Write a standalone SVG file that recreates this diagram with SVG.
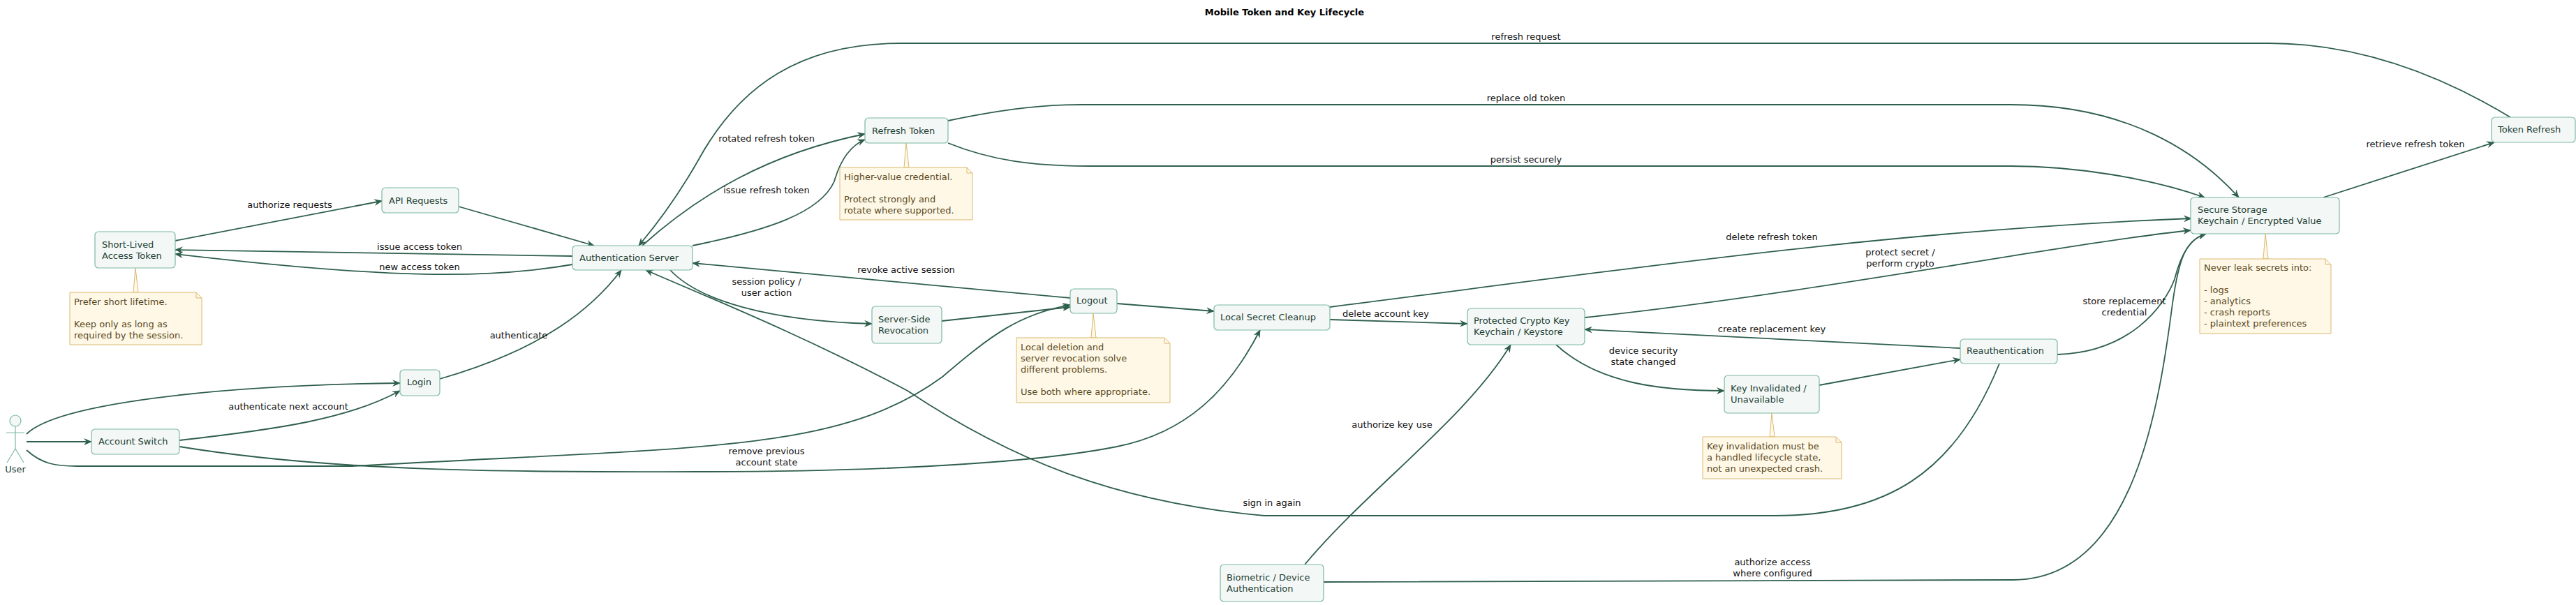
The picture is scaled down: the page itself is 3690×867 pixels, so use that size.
<svg xmlns="http://www.w3.org/2000/svg" width="3690" height="867" viewBox="0 0 3690 867">
<style>
.n{fill:#F3F8F6;stroke:#7DB8A2;stroke-width:1.2}
.nt{font-family:"DejaVu Sans",sans-serif;font-size:13px;fill:#1E3D33}
.no{fill:#FFF8E7;stroke:#D9B870;stroke-width:1}
.not{font-family:"DejaVu Sans",sans-serif;font-size:13px;fill:#5A4A1E}
.e{fill:none;stroke:#2F5F4C;stroke-width:1.8;marker-end:url(#a)}
.l{font-family:"DejaVu Sans",sans-serif;font-size:13px;fill:#111;text-anchor:middle}
.act{fill:#F3F8F6;stroke:#7DB8A2;stroke-width:1.2}
</style>
<defs>
<marker id="a" viewBox="0 0 12 10" refX="11" refY="5" markerWidth="12" markerHeight="10" markerUnits="userSpaceOnUse" orient="auto">
<path d="M0,0 L12,5 L0,10 L4,5 Z" fill="#2F5F4C"/>
</marker>
</defs>
<rect width="3690" height="867" fill="#fff"/>
<text x="1840" y="22" font-family="DejaVu Sans,sans-serif" font-size="13" font-weight="bold" text-anchor="middle">Mobile Token and Key Lifecycle</text>

<g id="connectors">
<path class="e" d="M38,622 C80,580 300,552 573,549"/>
<path class="e" d="M38,633 L131,633"/>
<path class="e" d="M38,645 C60,665 80,668 110,668 L505,668 C1000,640 1200,650 1350,540 C1420,480 1460,450 1533,437"/>
<path class="e" d="M257,631 C400,615 500,600 573,560"/>
<path class="e" d="M257,640 C500,680 800,676 1000,676 C1300,676 1500,660 1600,640 C1700,620 1760,560 1805,473"/>
<path class="e" d="M630,543 C780,500 850,440 890,387"/>
<path class="e" d="M251,345 L547,288"/>
<path class="e" d="M657,296 L851,352"/>
<path class="e" d="M820,367 L251,358"/>
<path class="e" d="M820,379 C700,400 560,400 251,364"/>
<path class="e" d="M920,352 C1000,280 1100,220 1239,192"/>
<path class="e" d="M992,352 C1100,330 1175,305 1195,260 C1205,225 1220,208 1239,200"/>
<path class="e" d="M3596,168 C3450,80 3330,62 3250,62 L1290,62 C1150,62 1060,120 1000,230 C960,300 925,340 915,352"/>
<path class="e" d="M1358,173 C1420,160 1480,150 1550,150 L2880,150 C3050,150 3150,220 3207,283"/>
<path class="e" d="M1358,205 C1420,230 1480,238 1560,238 L2880,238 C2970,238 3080,255 3158,283"/>
<path class="e" d="M960,387 C1000,430 1100,460 1249,464"/>
<path class="e" d="M1349,460 L1533,440"/>
<path class="e" d="M1533,427 L992,377"/>
<path class="e" d="M1600,435 L1739,446"/>
<path class="e" d="M1905,440 C2300,390 2700,330 3139,313"/>
<path class="e" d="M1905,458 L2102,464"/>
<path class="e" d="M2270,455 C2600,420 2950,350 3138,330"/>
<path class="e" d="M2229,494 C2290,550 2380,560 2470,560"/>
<path class="e" d="M2606,552 L2808,515"/>
<path class="e" d="M2808,499 L2270,472"/>
<path class="e" d="M2947,508 C3050,505 3100,440 3115,400 C3125,360 3140,340 3160,335"/>
<path class="e" d="M2864,521 C2800,680 2700,739 2542,739 L1811,739 C1600,720 1450,660 1300,560 C1150,480 1000,420 925,387"/>
<path class="e" d="M1869,809 C1960,700 2100,600 2164,494"/>
<path class="e" d="M1896,834 L2884,831 C3050,830 3090,600 3110,450 C3120,370 3130,345 3160,335"/>
<path class="e" d="M3328,283 L3573,204"/>
<text class="l" x="415" y="298">authorize requests</text>
<text class="l" x="601" y="358">issue access token</text>
<text class="l" x="601" y="387">new access token</text>
<text class="l" x="743" y="485">authenticate</text>
<text class="l" x="413" y="587">authenticate next account</text>
<text class="l" x="1098" y="203">rotated refresh token</text>
<text class="l" x="1098" y="277">issue refresh token</text>
<text class="l" x="1298" y="391">revoke active session</text>
<text class="l" x="1098" y="408">session policy /</text>
<text class="l" x="1098" y="424">user action</text>
<text class="l" x="2186" y="57">refresh request</text>
<text class="l" x="2186" y="145">replace old token</text>
<text class="l" x="2186" y="233">persist securely</text>
<text class="l" x="2538" y="344">delete refresh token</text>
<text class="l" x="2722" y="366">protect secret /</text>
<text class="l" x="2722" y="382">perform crypto</text>
<text class="l" x="1985" y="454">delete account key</text>
<text class="l" x="2538" y="476">create replacement key</text>
<text class="l" x="2354" y="507">device security</text>
<text class="l" x="2354" y="523">state changed</text>
<text class="l" x="1994" y="613">authorize key use</text>
<text class="l" x="1098" y="651">remove previous</text>
<text class="l" x="1098" y="667">account state</text>
<text class="l" x="1822" y="725">sign in again</text>
<text class="l" x="2539" y="810">authorize access</text>
<text class="l" x="2539" y="826">where configured</text>
<text class="l" x="3043" y="436">store replacement</text>
<text class="l" x="3043" y="452">credential</text>
<text class="l" x="3460" y="211">retrieve refresh token</text>
</g>

<g id="user">
<circle class="act" cx="22" cy="603" r="8"/>
<path d="M22,611 L22,643 M9,620 L35,620 M22,643 L10,663 M22,643 L34,663" stroke="#7DB8A2" stroke-width="1.2" fill="none"/>
<text class="nt" x="22" y="677" text-anchor="middle">User</text>
</g>
<g id="short-lived"><rect class="n" x="136" y="332" width="115" height="52" rx="5"/><text class="nt" x="146" y="355">Short-Lived</text><text class="nt" x="146" y="371">Access Token</text></g>
<g id="api"><rect class="n" x="547" y="269" width="110" height="36" rx="5"/><text class="nt" x="557" y="292">API Requests</text></g>
<g id="auth"><rect class="n" x="820" y="352" width="172" height="35" rx="5"/><text class="nt" x="830" y="374">Authentication Server</text></g>
<g id="login"><rect class="n" x="573" y="530" width="57" height="37" rx="5"/><text class="nt" x="583" y="552">Login</text></g>
<g id="account-switch"><rect class="n" x="131" y="615" width="126" height="36" rx="5"/><text class="nt" x="141" y="637">Account Switch</text></g>
<g id="refresh-token"><rect class="n" x="1239" y="169" width="119" height="36" rx="5"/><text class="nt" x="1249" y="192">Refresh Token</text></g>
<g id="server-side"><rect class="n" x="1249" y="439" width="100" height="53" rx="5"/><text class="nt" x="1258" y="462">Server-Side</text><text class="nt" x="1258" y="478">Revocation</text></g>
<g id="logout"><rect class="n" x="1533" y="414" width="67" height="35" rx="5"/><text class="nt" x="1542" y="435">Logout</text></g>
<g id="cleanup"><rect class="n" x="1739" y="437" width="166" height="36" rx="5"/><text class="nt" x="1748" y="459">Local Secret Cleanup</text></g>
<g id="protected"><rect class="n" x="2102" y="442" width="168" height="52" rx="5"/><text class="nt" x="2111" y="464">Protected Crypto Key</text><text class="nt" x="2111" y="480">Keychain / Keystore</text></g>
<g id="invalidated"><rect class="n" x="2470" y="538" width="136" height="54" rx="5"/><text class="nt" x="2479" y="561">Key Invalidated /</text><text class="nt" x="2479" y="577">Unavailable</text></g>
<g id="reauth"><rect class="n" x="2808" y="486" width="139" height="35" rx="5"/><text class="nt" x="2817" y="507">Reauthentication</text></g>
<g id="biometric"><rect class="n" x="1748" y="809" width="148" height="53" rx="5"/><text class="nt" x="1757" y="832">Biometric / Device</text><text class="nt" x="1757" y="848">Authentication</text></g>
<g id="secure"><rect class="n" x="3138" y="283" width="213" height="52" rx="5"/><text class="nt" x="3148" y="305">Secure Storage</text><text class="nt" x="3148" y="321">Keychain / Encrypted Value</text></g>
<g id="token-refresh"><rect class="n" x="3569" y="168" width="120" height="36" rx="5"/><text class="nt" x="3578" y="190">Token Refresh</text></g>

<g id="note-short">
<polygon class="no" points="191,419 194,384 198,419"/>
<path class="no" d="M100,419 L281,419 L289,427 L289,494 L100,494 Z"/>
<path d="M281,419 L281,427 L289,427" fill="none" stroke="#D9B870"/>
<text class="not" x="106" y="437">Prefer short lifetime.</text><text class="not" x="106" y="469">Keep only as long as</text><text class="not" x="106" y="485">required by the session.</text>
</g>
<g id="note-refresh">
<polygon class="no" points="1295,240 1298,205 1302,240"/>
<path class="no" d="M1203,240 L1385,240 L1393,248 L1393,315 L1203,315 Z"/>
<path d="M1385,240 L1385,248 L1393,248" fill="none" stroke="#D9B870"/>
<text class="not" x="1209" y="258">Higher-value credential.</text><text class="not" x="1209" y="290">Protect strongly and</text><text class="not" x="1209" y="306">rotate where supported.</text>
</g>
<g id="note-logout">
<polygon class="no" points="1563,484 1566,449 1570,484"/>
<path class="no" d="M1456,484 L1668,484 L1676,492 L1676,577 L1456,577 Z"/>
<path d="M1668,484 L1668,492 L1676,492" fill="none" stroke="#D9B870"/>
<text class="not" x="1462" y="502">Local deletion and</text><text class="not" x="1462" y="518">server revocation solve</text><text class="not" x="1462" y="534">different problems.</text><text class="not" x="1462" y="566">Use both where appropriate.</text>
</g>
<g id="note-key">
<polygon class="no" points="2535,626 2538,592 2542,626"/>
<path class="no" d="M2439,626 L2630,626 L2638,634 L2638,686 L2439,686 Z"/>
<path d="M2630,626 L2630,634 L2638,634" fill="none" stroke="#D9B870"/>
<text class="not" x="2445" y="644">Key invalidation must be</text><text class="not" x="2445" y="660">a handled lifecycle state,</text><text class="not" x="2445" y="676">not an unexpected crash.</text>
</g>
<g id="note-secure">
<polygon class="no" points="3242,371 3245,335 3249,371"/>
<path class="no" d="M3151,371 L3331,371 L3339,379 L3339,478 L3151,478 Z"/>
<path d="M3331,371 L3331,379 L3339,379" fill="none" stroke="#D9B870"/>
<text class="not" x="3157" y="388">Never leak secrets into:</text><text class="not" x="3157" y="420">- logs</text><text class="not" x="3157" y="436">- analytics</text><text class="not" x="3157" y="452">- crash reports</text><text class="not" x="3157" y="468">- plaintext preferences</text>
</g>
</svg>
